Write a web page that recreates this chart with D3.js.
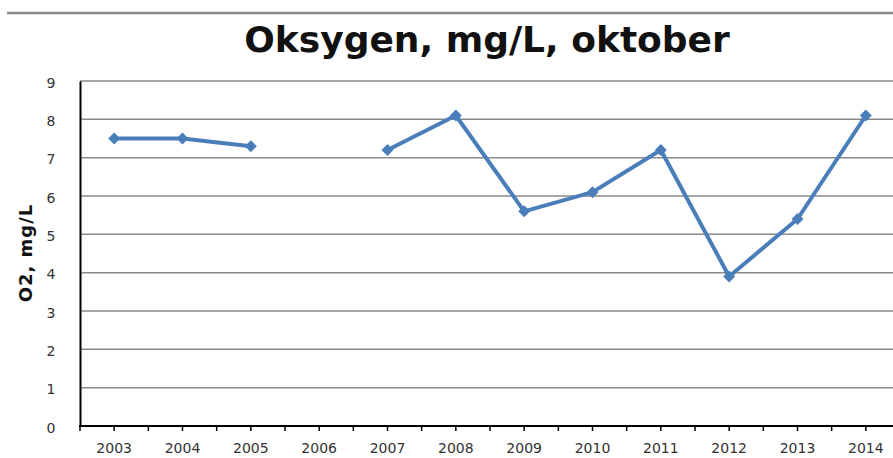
<!DOCTYPE html>
<html>
<head>
<meta charset="utf-8">
<script src="https://cdn.jsdelivr.net/npm/d3@7"></script>
<style>
  body { margin: 0; background: #fff; }
  svg { display: block; }
</style>
</head>
<body>
<div id="chart"></div>
<script>
const W = 893, H = 458;
const years = ["2003", "2004", "2005", "2006", "2007", "2008", "2009", "2010", "2011", "2012", "2013", "2014"];
const oxygen = [7.5, 7.5, 7.3, null, 7.2, 8.1, 5.6, 6.1, 7.2, 3.9, 5.4, 8.1];
const yTicks = [0, 1, 2, 3, 4, 5, 6, 7, 8, 9];
const titleText = "Oksygen, mg/L, oktober";
const yLabel = "O2, mg/L";

const plot = { left: 80, right: 900, top: 81, bottom: 426 };
const fontFam = "Verdana, 'DejaVu Sans', sans-serif";

const svg = d3.select("#chart").append("svg")
  .attr("width", W)
  .attr("height", H);

// gray rule on top
svg.append("line")
  .attr("x1", 7).attr("x2", W)
  .attr("y1", 13).attr("y2", 13)
  .attr("stroke", "#8c8c8c")
  .attr("stroke-width", 2.5);

svg.append("text")
  .attr("x", 487).attr("y", 52)
  .attr("text-anchor", "middle")
  .attr("font-family", fontFam)
  .attr("font-weight", "bold")
  .attr("font-size", "36px")
  .attr("fill", "#111")
  .text(titleText);

const x = d3.scaleBand()
  .domain(years)
  .range([plot.left, plot.right]);

const y = d3.scaleLinear()
  .domain([0, 9])
  .range([plot.bottom, plot.top]);

// gridlines
svg.append("g")
  .selectAll("line")
  .data(yTicks.filter(d => d > 0))
  .join("line")
    .attr("x1", plot.left).attr("x2", W)
    .attr("y1", d => y(d)).attr("y2", d => y(d))
    .attr("stroke", "#8a8a8a")
    .attr("stroke-width", 1.5);

// y axis
const yAxis = svg.append("g")
  .attr("transform", `translate(${plot.left},0)`)
  .call(d3.axisLeft(y).tickValues(yTicks).tickSize(0).tickPadding(24));
yAxis.select(".domain").attr("stroke", "#000").attr("stroke-width", 2);
yAxis.selectAll("text")
  .attr("font-family", fontFam)
  .attr("font-size", "14px")
  .attr("fill", "#333")
  .attr("text-anchor", "middle")
  .attr("x", -29)
  .attr("dy", "0.45em");

// x axis: ticks at category centres and boundaries
const halfTicks = [];
years.forEach(yr => {
  halfTicks.push(x(yr));
  halfTicks.push(x(yr) + x.bandwidth() / 2);
});
halfTicks.push(plot.right);

svg.append("line")
  .attr("x1", plot.left - 1).attr("x2", W)
  .attr("y1", plot.bottom).attr("y2", plot.bottom)
  .attr("stroke", "#000")
  .attr("stroke-width", 2);

svg.append("g")
  .selectAll("line")
  .data(halfTicks)
  .join("line")
    .attr("x1", d => d).attr("x2", d => d)
    .attr("y1", plot.bottom).attr("y2", plot.bottom + 5)
    .attr("stroke", "#000")
    .attr("stroke-width", 1.5);

svg.append("g")
  .selectAll("text")
  .data(years)
  .join("text")
    .attr("x", d => x(d) + x.bandwidth() / 2)
    .attr("y", 453)
    .attr("text-anchor", "middle")
    .attr("font-family", fontFam)
    .attr("font-size", "14px")
    .attr("fill", "#333")
    .text(d => d);

// y axis title
svg.append("text")
  .attr("transform", `translate(32,253) rotate(-90)`)
  .attr("text-anchor", "middle")
  .attr("font-family", fontFam)
  .attr("font-weight", "bold")
  .attr("font-size", "18px")
  .attr("letter-spacing", "1px")
  .attr("fill", "#111")
  .text(yLabel);

// line (gap where value missing)
const pts = years.map((yr, i) => ({ year: yr, value: oxygen[i] }));
const line = d3.line()
  .defined(d => d.value != null)
  .x(d => x(d.year) + x.bandwidth() / 2)
  .y(d => y(d.value));

svg.append("path")
  .datum(pts)
  .attr("fill", "none")
  .attr("stroke", "#4a7ebb")
  .attr("stroke-width", 4)
  .attr("stroke-linejoin", "round")
  .attr("d", line);

svg.append("g")
  .selectAll("path")
  .data(pts.filter(d => d.value != null))
  .join("path")
    .attr("d", d3.symbol().type(d3.symbolSquare).size(72))
    .attr("transform", d => `translate(${x(d.year) + x.bandwidth() / 2},${y(d.value)}) rotate(45)`)
    .attr("fill", "#4a7ebb");
</script>
</body>
</html>
